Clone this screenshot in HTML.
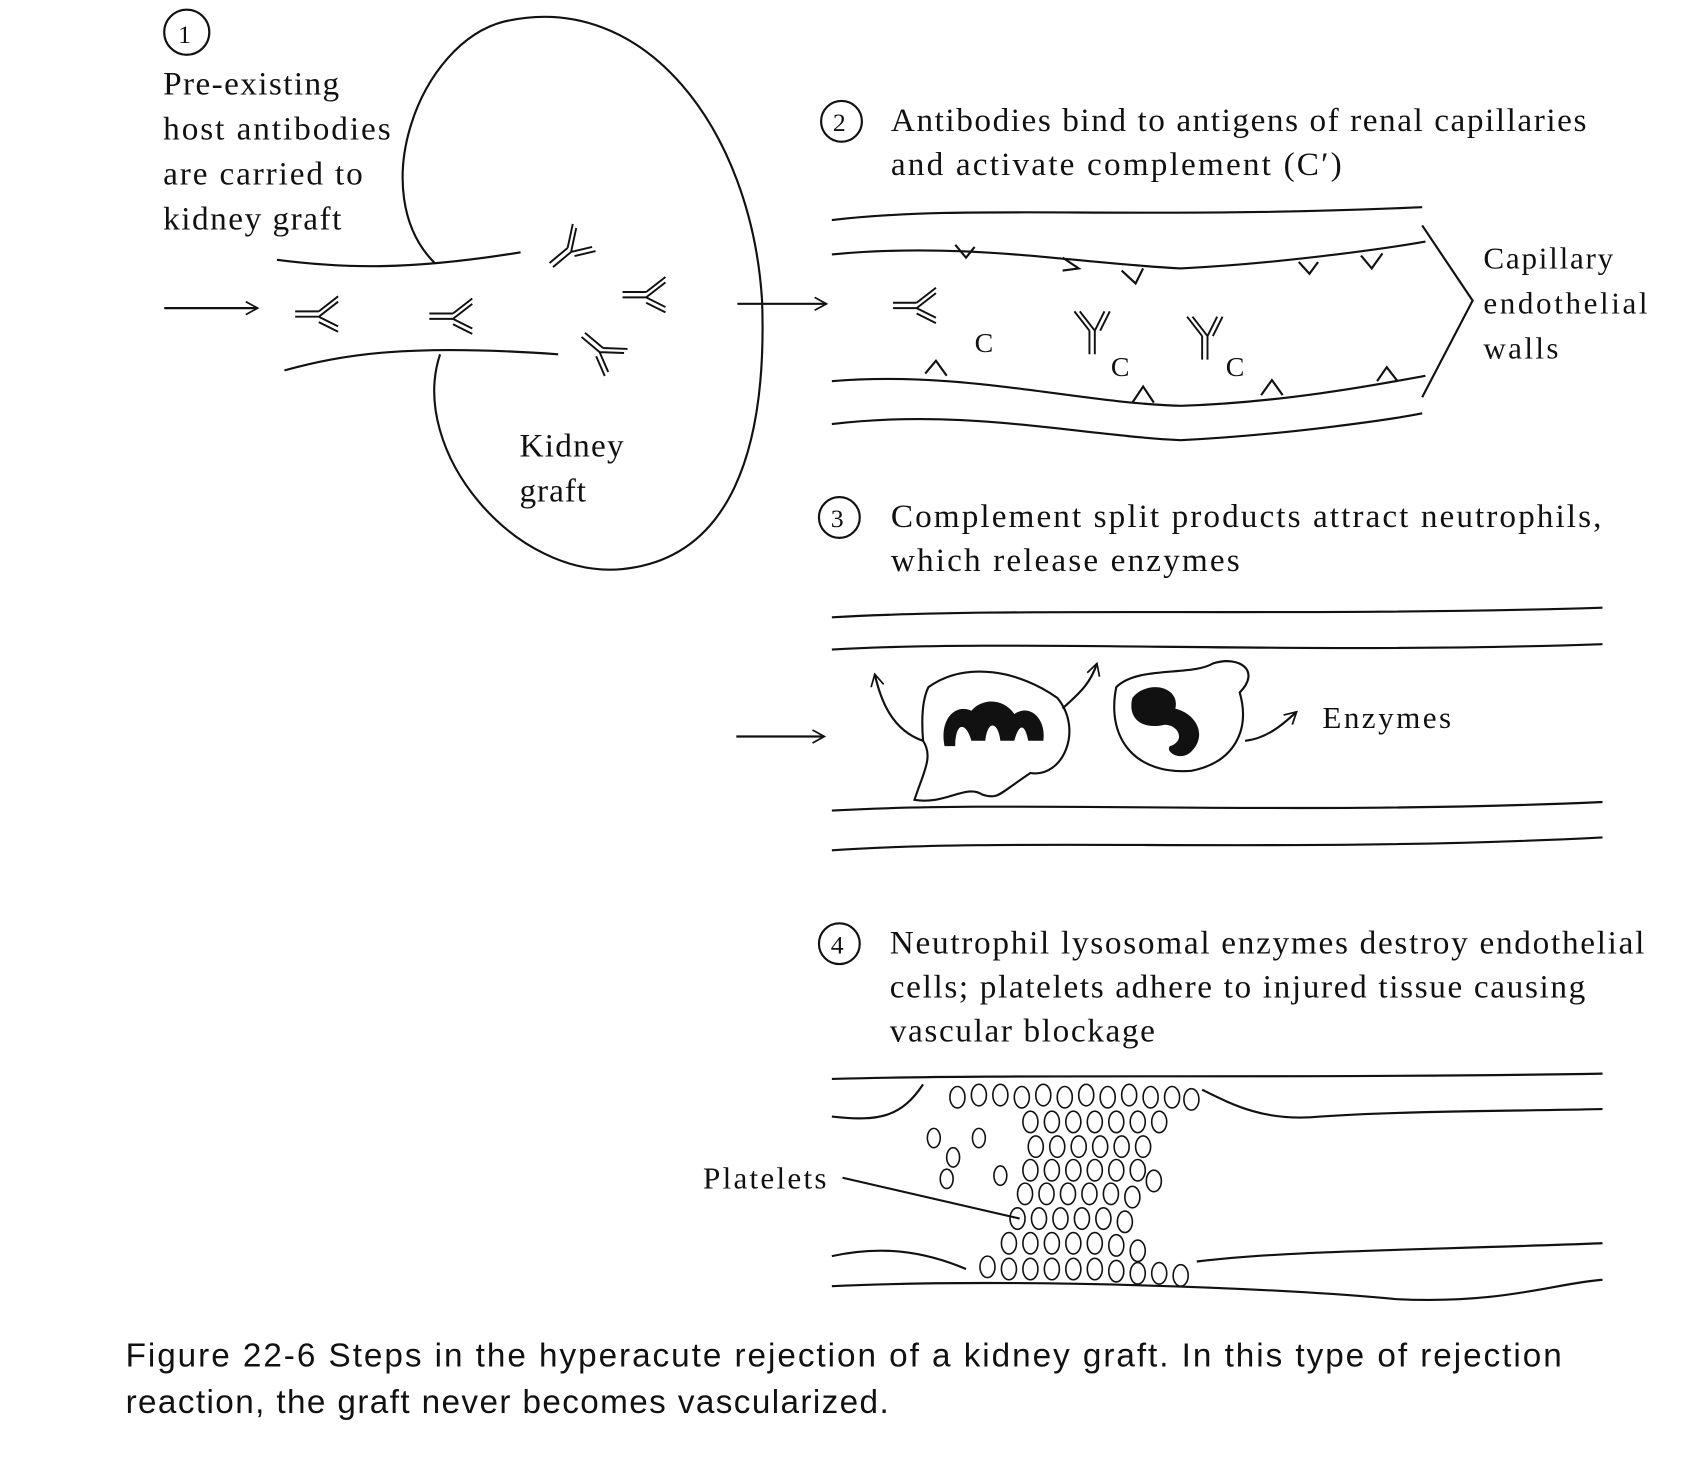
<!DOCTYPE html>
<html><head><meta charset="utf-8"><style>
html,body{margin:0;padding:0;background:#fff}
svg{display:block}
text{font-family:"Liberation Serif",serif;fill:#111}
</style></head><body>
<svg width="1683" height="1473" viewBox="0 0 1568 1372" preserveAspectRatio="none" xmlns="http://www.w3.org/2000/svg">
<defs>
<marker id="ah" markerWidth="14" markerHeight="14" refX="12" refY="7" orient="auto" markerUnits="userSpaceOnUse"><path d="M1,1 L12,7 L1,13" fill="none" stroke="#111" stroke-width="1.6"/></marker>
<g id="ab" fill="none" stroke="#111" stroke-width="1.8">
<path d="M0,0 L22,0 M0,5 L22,5 M22,0 L40,-14 M22,5 L40,-9 M22,5 L40,14 M22,10 L40,19"/>
</g>
</defs>
<g fill="none" stroke="#111" stroke-width="2">
<circle cx="174" cy="30" r="21"/>
<path d="M405,245 C340,180 390,40 470,20 C600,-10 700,120 710,280 C715,420 680,520 580,530 C480,540 380,420 410,330"/>
<path d="M258,242 C320,250 380,252 485,235"/>
<path d="M265,345 C320,330 380,320 520,330"/>
<line x1="153" y1="287" x2="240" y2="287" marker-end="url(#ah)"/>
<line x1="687" y1="283" x2="770" y2="283" marker-end="url(#ah)"/>
<circle cx="784" cy="113" r="19"/>
<path d="M775,205 C900,190 1050,205 1325,193"/>
<path d="M775,237 C900,225 1000,245 1100,250 C1200,245 1300,230 1328,225"/>
<path d="M775,355 C900,345 1000,375 1100,378 C1200,375 1300,355 1328,350"/>
<path d="M775,395 C900,380 1000,405 1100,410 C1200,405 1300,390 1325,385"/>
<path d="M1325,210 L1372,280 L1325,370"/>
<path d="M990,240 L1005,250 L990,252 M1045,252 L1058,264 L1065,250 M1210,244 L1220,255 L1228,244 M1268,238 L1278,250 L1288,236 M862,348 L872,336 L882,350 M1055,375 L1065,360 L1075,375 M1175,368 L1185,354 L1195,368 M1283,355 L1292,342 L1302,355"/>
<path d="M890,228 L900,240 L908,230"/>
<circle cx="782" cy="482" r="19"/>
<path d="M775,575 C950,565 1200,575 1493,566"/>
<path d="M775,605 C950,595 1200,610 1493,600"/>
<path d="M775,755 C950,745 1200,760 1493,747"/>
<path d="M775,792 C950,780 1200,795 1493,780"/>
<line x1="686" y1="686" x2="768" y2="686" marker-end="url(#ah)"/>
<path d="M865,640 C900,615 950,625 985,650 C1010,680 990,725 960,720 C930,740 930,745 915,740 C900,730 880,750 852,745 C860,720 870,705 860,690 C858,665 860,650 865,640Z"/>
<path d="M1040,640 C1060,620 1110,630 1130,618 C1155,610 1175,625 1155,645 C1165,680 1150,710 1110,718 C1060,722 1030,690 1040,640Z"/>
<path d="M860,690 C830,680 820,650 815,628" marker-end="url(#ah)"/>
<path d="M990,660 C1000,650 1015,640 1022,618" marker-end="url(#ah)"/>
<path d="M1160,690 C1180,688 1195,675 1208,663" marker-end="url(#ah)"/>
<circle cx="782" cy="879" r="19"/>
<path d="M775,1005 C950,1000 1200,1005 1493,1000"/>
<path d="M775,1040 C820,1045 840,1040 860,1010 M1120,1015 C1150,1030 1180,1045 1230,1040 C1300,1035 1400,1035 1493,1033"/>
<path d="M775,1170 C820,1160 860,1165 900,1182 M1115,1175 C1200,1165 1300,1165 1493,1158"/>
<path d="M775,1198 C950,1190 1200,1200 1300,1210 C1400,1215 1450,1195 1493,1192"/>
<line x1="785" y1="1097" x2="950" y2="1135"/>
</g>
<path d="M880,695 C875,670 890,655 905,662 C915,650 935,650 945,665 C960,655 975,670 972,690 L958,690 C955,675 950,672 945,690 L932,690 C930,672 920,670 918,690 L905,690 C900,672 890,672 890,695Z" fill="#111"/>
<path d="M1055,650 C1070,632 1100,640 1095,660 C1115,665 1125,685 1110,700 C1100,710 1085,700 1090,695 C1105,690 1098,675 1085,675 C1065,680 1050,670 1055,650Z" fill="#111"/>
<g transform="translate(275,290)"><use href="#ab"/></g>
<g transform="translate(400,292)"><use href="#ab"/></g>
<g transform="translate(580,272)"><use href="#ab"/></g>
<g transform="translate(512,245) rotate(-40)"><use href="#ab"/></g>
<g transform="translate(545,310) rotate(40)"><use href="#ab"/></g>
<g transform="translate(832,282)"><use href="#ab"/></g>
<g transform="translate(1015,330) rotate(-90)"><use href="#ab"/></g>
<g transform="translate(1120,335) rotate(-90)"><use href="#ab"/></g>
<g font-size="31">
<text x="166" y="40" font-size="24">1</text>
<text x="152" y="88" textLength="164">Pre-existing</text>
<text x="152" y="130" textLength="212">host antibodies</text>
<text x="152" y="172" textLength="186">are carried to</text>
<text x="152" y="214" textLength="166">kidney graft</text>
<text x="484" y="425" textLength="97">Kidney</text>
<text x="484" y="467" textLength="62">graft</text>
<text x="776" y="122" font-size="24">2</text>
<text x="830" y="122" textLength="648">Antibodies bind to antigens of renal capillaries</text>
<text x="830" y="163" textLength="420">and activate complement (C′)</text>
<text x="1382" y="250" font-size="29" textLength="121">Capillary</text>
<text x="1382" y="292" font-size="29" textLength="153">endothelial</text>
<text x="1382" y="334" font-size="29" textLength="70">walls</text>
<text x="908" y="328" font-size="26">C</text>
<text x="1035" y="350" font-size="26">C</text>
<text x="1142" y="350" font-size="26">C</text>
<text x="774" y="491" font-size="24">3</text>
<text x="830" y="491" textLength="662">Complement split products attract neutrophils,</text>
<text x="830" y="532" textLength="325">which release enzymes</text>
<text x="1232" y="678" font-size="29" textLength="120">Enzymes</text>
<text x="774" y="888" font-size="24">4</text>
<text x="829" y="888" textLength="703">Neutrophil lysosomal enzymes destroy endothelial</text>
<text x="829" y="929" textLength="648">cells; platelets adhere to injured tissue causing</text>
<text x="829" y="970" textLength="247">vascular blockage</text>
<text x="655" y="1107" font-size="29" textLength="115">Platelets</text>
</g>
<g font-size="31">
<text x="117" y="1273" textLength="1338" style="font-family:'Liberation Sans',sans-serif">Figure 22-6   Steps in the hyperacute rejection of a kidney graft. In this type of rejection</text>
<text x="117" y="1316" textLength="711" style="font-family:'Liberation Sans',sans-serif">reaction, the graft never becomes vascularized.</text>
</g>
<g fill="none" stroke="#111" stroke-width="1.5">
<ellipse cx="892" cy="1022" rx="7" ry="10"/><ellipse cx="912" cy="1020" rx="7" ry="10"/><ellipse cx="932" cy="1020" rx="7" ry="10"/><ellipse cx="952" cy="1022" rx="7" ry="10"/><ellipse cx="972" cy="1020" rx="7" ry="10"/><ellipse cx="992" cy="1022" rx="7" ry="10"/><ellipse cx="1012" cy="1020" rx="7" ry="10"/><ellipse cx="1032" cy="1022" rx="7" ry="10"/><ellipse cx="1052" cy="1020" rx="7" ry="10"/><ellipse cx="1072" cy="1022" rx="7" ry="10"/><ellipse cx="1092" cy="1022" rx="7" ry="10"/><ellipse cx="1110" cy="1024" rx="7" ry="10"/>
<ellipse cx="870" cy="1060" rx="6" ry="9"/><ellipse cx="888" cy="1078" rx="6" ry="9"/><ellipse cx="882" cy="1098" rx="6" ry="9"/><ellipse cx="912" cy="1060" rx="6" ry="9"/><ellipse cx="932" cy="1095" rx="6" ry="9"/>
<ellipse cx="960" cy="1045" rx="7" ry="10"/><ellipse cx="980" cy="1045" rx="7" ry="10"/><ellipse cx="1000" cy="1045" rx="7" ry="10"/><ellipse cx="1020" cy="1045" rx="7" ry="10"/><ellipse cx="1040" cy="1045" rx="7" ry="10"/><ellipse cx="1060" cy="1045" rx="7" ry="10"/><ellipse cx="1080" cy="1045" rx="7" ry="10"/>
<ellipse cx="965" cy="1068" rx="7" ry="10"/><ellipse cx="985" cy="1068" rx="7" ry="10"/><ellipse cx="1005" cy="1068" rx="7" ry="10"/><ellipse cx="1025" cy="1068" rx="7" ry="10"/><ellipse cx="1045" cy="1068" rx="7" ry="10"/><ellipse cx="1065" cy="1068" rx="7" ry="10"/>
<ellipse cx="960" cy="1090" rx="7" ry="10"/><ellipse cx="980" cy="1090" rx="7" ry="10"/><ellipse cx="1000" cy="1090" rx="7" ry="10"/><ellipse cx="1020" cy="1090" rx="7" ry="10"/><ellipse cx="1040" cy="1090" rx="7" ry="10"/><ellipse cx="1060" cy="1090" rx="7" ry="10"/><ellipse cx="1075" cy="1100" rx="7" ry="10"/>
<ellipse cx="955" cy="1112" rx="7" ry="10"/><ellipse cx="975" cy="1112" rx="7" ry="10"/><ellipse cx="995" cy="1112" rx="7" ry="10"/><ellipse cx="1015" cy="1112" rx="7" ry="10"/><ellipse cx="1035" cy="1112" rx="7" ry="10"/><ellipse cx="1055" cy="1115" rx="7" ry="10"/>
<ellipse cx="948" cy="1135" rx="7" ry="10"/><ellipse cx="968" cy="1135" rx="7" ry="10"/><ellipse cx="988" cy="1135" rx="7" ry="10"/><ellipse cx="1008" cy="1135" rx="7" ry="10"/><ellipse cx="1028" cy="1135" rx="7" ry="10"/><ellipse cx="1048" cy="1138" rx="7" ry="10"/>
<ellipse cx="940" cy="1158" rx="7" ry="10"/><ellipse cx="960" cy="1158" rx="7" ry="10"/><ellipse cx="980" cy="1158" rx="7" ry="10"/><ellipse cx="1000" cy="1158" rx="7" ry="10"/><ellipse cx="1020" cy="1158" rx="7" ry="10"/><ellipse cx="1040" cy="1160" rx="7" ry="10"/><ellipse cx="1060" cy="1165" rx="7" ry="10"/>
<ellipse cx="920" cy="1180" rx="7" ry="10"/><ellipse cx="940" cy="1182" rx="7" ry="10"/><ellipse cx="960" cy="1182" rx="7" ry="10"/><ellipse cx="980" cy="1182" rx="7" ry="10"/><ellipse cx="1000" cy="1182" rx="7" ry="10"/><ellipse cx="1020" cy="1182" rx="7" ry="10"/><ellipse cx="1040" cy="1184" rx="7" ry="10"/><ellipse cx="1060" cy="1186" rx="7" ry="10"/><ellipse cx="1080" cy="1186" rx="7" ry="10"/><ellipse cx="1100" cy="1188" rx="7" ry="10"/>
</g>
</svg>
</body></html>
